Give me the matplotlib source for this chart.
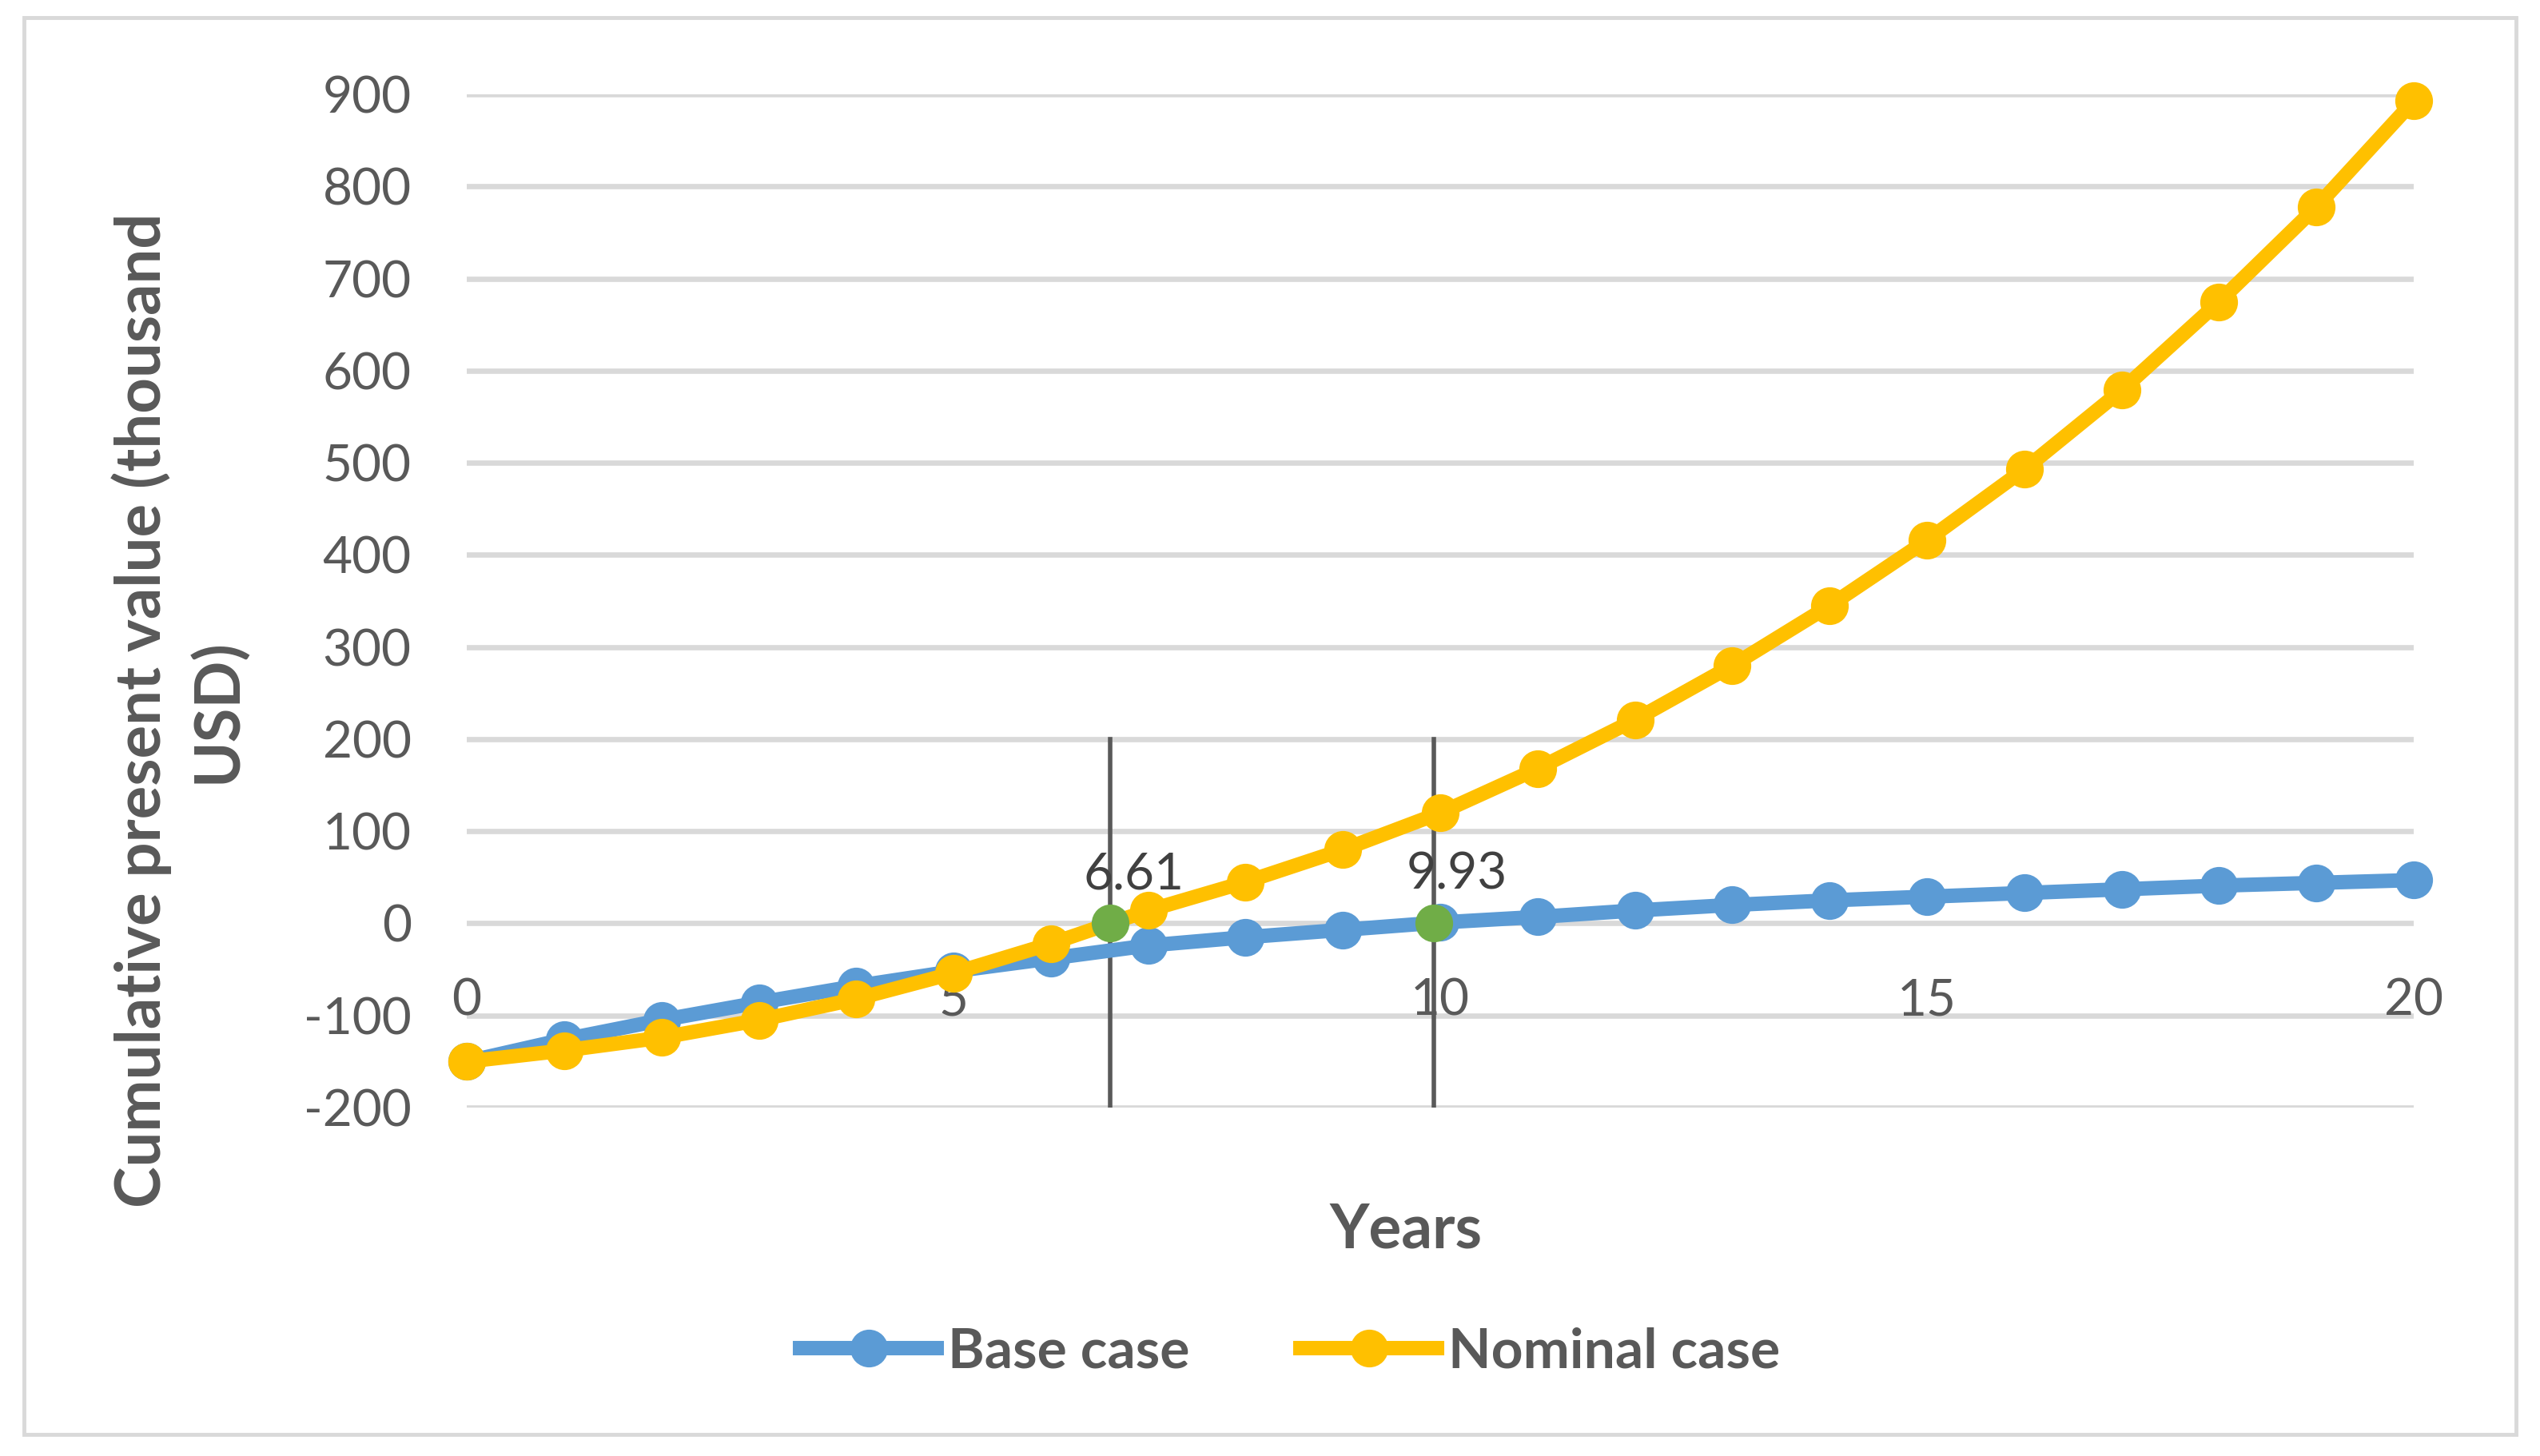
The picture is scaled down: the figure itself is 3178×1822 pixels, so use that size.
import matplotlib
matplotlib.use('Agg')
import matplotlib.pyplot as plt
from matplotlib.patches import Rectangle

# values (thousand USD)
years = list(range(21))
base_case = [-150, -126, -105, -86, -68, -52, -38, -24, -15, -7, 1,
             7, 14, 20, 25, 29, 33, 37, 41, 44, 47]
nominal_case = [-150, -138, -124, -105, -82, -54, -22, 14, 45, 80, 120,
                168, 221, 280, 345, 416, 493, 579, 675, 778, 893]

# payback points
payback_years = [6.61, 9.93]
payback_labels = ['6.61', '9.93']
payback_value = [0, 0]

y_ticks = list(range(-200, 1000, 100))
x_ticks = [0, 5, 10, 15, 20]

plt.rcParams['font.family'] = ['Lato', 'DejaVu Sans']
plt.rcParams['axes.unicode_minus'] = False

blue = '#5B9BD5'
yellow = '#FFC000'
green = '#70AD47'
grey_txt = '#595959'

fig = plt.figure(figsize=(31.78, 18.22), dpi=100)
ax = fig.add_axes([0.1838, 0.2393, 0.7665, 0.6958])

# outer chart border
fig.patches.append(Rectangle((30 / 3178, 1 - 1795 / 1822), 3118 / 3178, 1773 / 1822,
                             transform=fig.transFigure, fill=False,
                             ec='#D9D9D9', lw=3.5))

ax.set_xlim(0, 20)
ax.set_ylim(-200, 900)
ax.set_yticks(y_ticks)
ax.set_xticks([])
ax.yaxis.grid(True, color='#D9D9D9', lw=4.8)
ax.set_axisbelow(True)
for s in ax.spines.values():
    s.set_visible(False)
ax.tick_params(axis='y', length=0, pad=50, labelsize=46, labelcolor=grey_txt)

# vertical payback lines
for px in payback_years:
    ax.plot([px, px], [-200, 200], color='#595959', lw=4, zorder=2)

ax.plot(years, base_case, color=blue, lw=13, marker='o', ms=34, mew=0,
        label='Base case', zorder=3, clip_on=False)
ax.plot(years, nominal_case, color=yellow, lw=13, marker='o', ms=34, mew=0,
        label='Nominal case', zorder=4, clip_on=False)
ax.plot(payback_years, payback_value, ls='none', marker='o', ms=34, mew=0,
        color=green, zorder=5)

for px, lab, py in zip(payback_years, payback_labels, payback_value):
    ax.annotate(lab, (px, py), xytext=(21, 44), textcoords='offset points',
                ha='center', va='center', fontsize=46, color='#404040', zorder=6)

# x tick labels sit just above the -100 gridline
for xt in x_ticks:
    ax.text(xt, -84, str(xt), ha='center', va='center', fontsize=46, color=grey_txt)

fig.text(0.5535, 0.155, 'Years', ha='center', va='center', fontsize=55,
         fontweight='bold', color=grey_txt)
fig.text(0.0708, 0.512, 'Cumulative present value (thousand\nUSD)', rotation=90,
         ha='center', va='center', multialignment='center', fontsize=56,
         fontweight='bold', color=grey_txt, linespacing=1.35)

fig.legend(loc='center', bbox_to_anchor=(0.508, 0.0713), ncol=2, frameon=False,
           prop={'weight': 'bold', 'size': 50}, labelcolor=grey_txt,
           handlelength=2.46, handletextpad=0.2, columnspacing=2.0, numpoints=1)

fig.savefig('out.png', dpi=100)
